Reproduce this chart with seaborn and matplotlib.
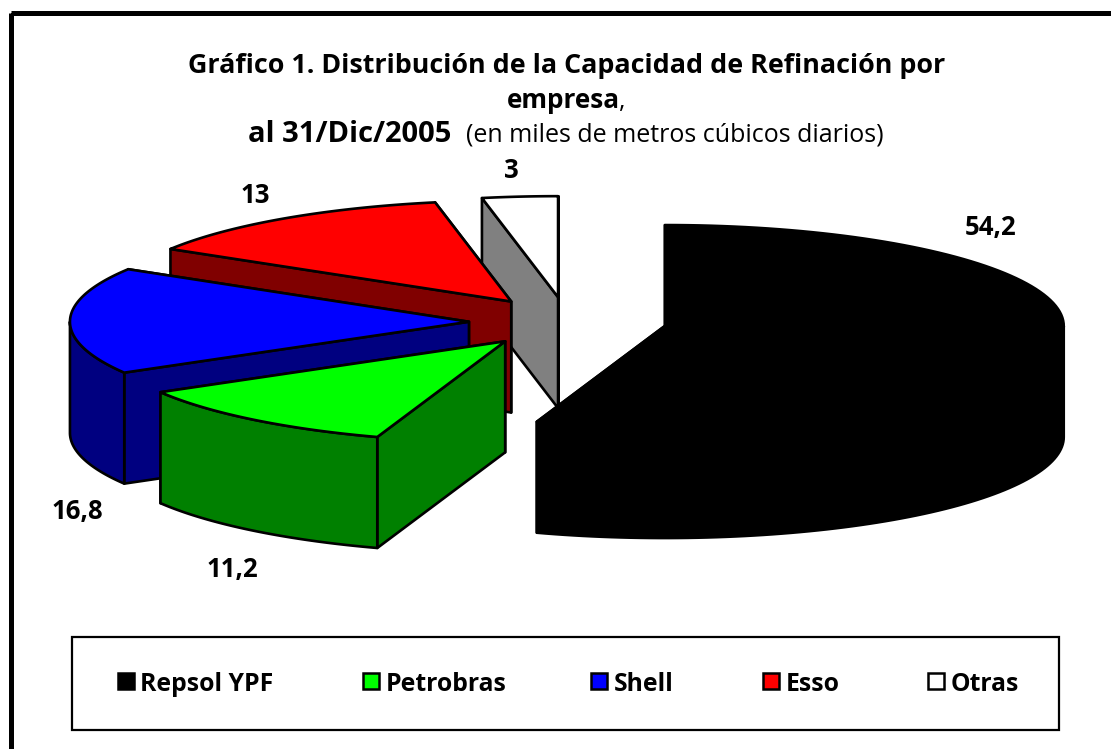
import numpy as np
import matplotlib
matplotlib.use("Agg")
import matplotlib.pyplot as plt
from matplotlib.patches import Polygon, Rectangle
import seaborn as sns

categories = ["Repsol YPF", "Petrobras", "Shell", "Esso", "Otras"]
values = [54.2, 11.2, 16.8, 13, 3]
value_labels = ["54,2", "11,2", "16,8", "13", "3"]
top_colors = ["#000000", "#00FF00", "#0000FF", "#FF0000", "#FFFFFF"]
side_colors = ["#000000", "#008000", "#000080", "#800000", "#808080"]

sns.set_theme(style="white")
FONT = "Open Sans"
plt.rcParams["font.family"] = [FONT, "DejaVu Sans"]

fig = plt.figure(figsize=(11.11, 7.49), dpi=100, facecolor="white")
ax = fig.add_axes([0, 0, 1, 1])
ax.set_xlim(0, 1111)
ax.set_ylim(749, 0)
ax.axis("off")

# pie geometry (pixel space)
CX, CY, RX, RY, DEPTH, EXPLODE = 567.5, 322, 399, 101, 111, 0.247
LW = 1.9


def project(cx, cy, theta_deg, r=1.0):
    t = np.radians(theta_deg)
    return cx + r * RX * np.sin(t), cy - r * RY * np.cos(t)


def draw_slice(start, end, top, side):
    mid = (start + end) / 2
    cx, cy = project(CX, CY, mid, EXPLODE)
    edge = dict(edgecolor="black", linewidth=LW, joinstyle="round")
    tip = np.array([cx, cy])
    faces = sorted([start, end], key=lambda a: project(cx, cy, a)[1])
    for a in faces:
        p = np.array(project(cx, cy, a))
        pts = [tip, p, p + [0, DEPTH], tip + [0, DEPTH]]
        ax.add_patch(Polygon(pts, closed=True, facecolor=side, **edge))
    a0, a1 = max(start, 90), min(end, 270)
    if a1 > a0:
        th = np.linspace(a0, a1, 80)
        x, y = project(cx, cy, th)
        pts = np.r_[np.c_[x, y], np.c_[x[::-1], y[::-1] + DEPTH]]
        ax.add_patch(Polygon(pts, closed=True, facecolor=side, **edge))
    th = np.linspace(start, end, 120)
    x, y = project(cx, cy, th)
    pts = np.r_[[tip], np.c_[x, y]]
    ax.add_patch(Polygon(pts, closed=True, facecolor=top, **edge))


total = sum(values)
angles = np.r_[0, np.cumsum(values)] / total * 360
for i in [4, 3, 2, 1, 0]:
    draw_slice(angles[i], angles[i + 1], top_colors[i], side_colors[i])

# frame: its right and bottom sides fall outside the image
ax.add_patch(Rectangle((11, 13), 1200, 800, fill=False, edgecolor="black", linewidth=3.6,
                       joinstyle="round"))

# title
TS = 19.4
ax.text(567, 73, "Gráfico 1. Distribución de la Capacidad de Refinación por", ha="center",
        va="baseline", fontsize=TS, fontweight="bold", color="black")
ax.text(507, 108, "empresa", ha="left", va="baseline", fontsize=18.8, fontweight="bold",
        color="black")
ax.text(619, 108, ",", ha="left", va="baseline", fontsize=18, color="black")
ax.text(248, 142, "al 31/Dic/2005", ha="left", va="baseline", fontsize=21, fontweight="bold",
        color="black")
ax.text(466, 142, "(en miles de metros cúbicos diarios)", ha="left", va="baseline",
        fontsize=18, color="black")

# value labels
label_pos = {0: (991, 235), 1: (232, 577), 2: (77, 519), 3: (255, 203), 4: (511, 178)}
for i, lab in enumerate(value_labels):
    ax.text(*label_pos[i], lab, ha="center", va="baseline", fontsize=18.5, fontweight="bold",
            color="black")

# legend
ax.add_patch(Rectangle((71.5, 637), 987.5, 93, facecolor="white", edgecolor="black", linewidth=1.6))
swatch_x = [118, 363, 591, 763, 928]
for sx, lab, col in zip(swatch_x, categories, top_colors):
    ax.add_patch(Rectangle((sx, 673), 16, 16, facecolor=col, edgecolor="black", linewidth=1.8))
    ax.text(sx + 22.5, 691, lab, ha="left", va="baseline", fontsize=17.8, fontweight="bold",
            color="black")

fig.savefig("out.png", dpi=100, facecolor="white")
